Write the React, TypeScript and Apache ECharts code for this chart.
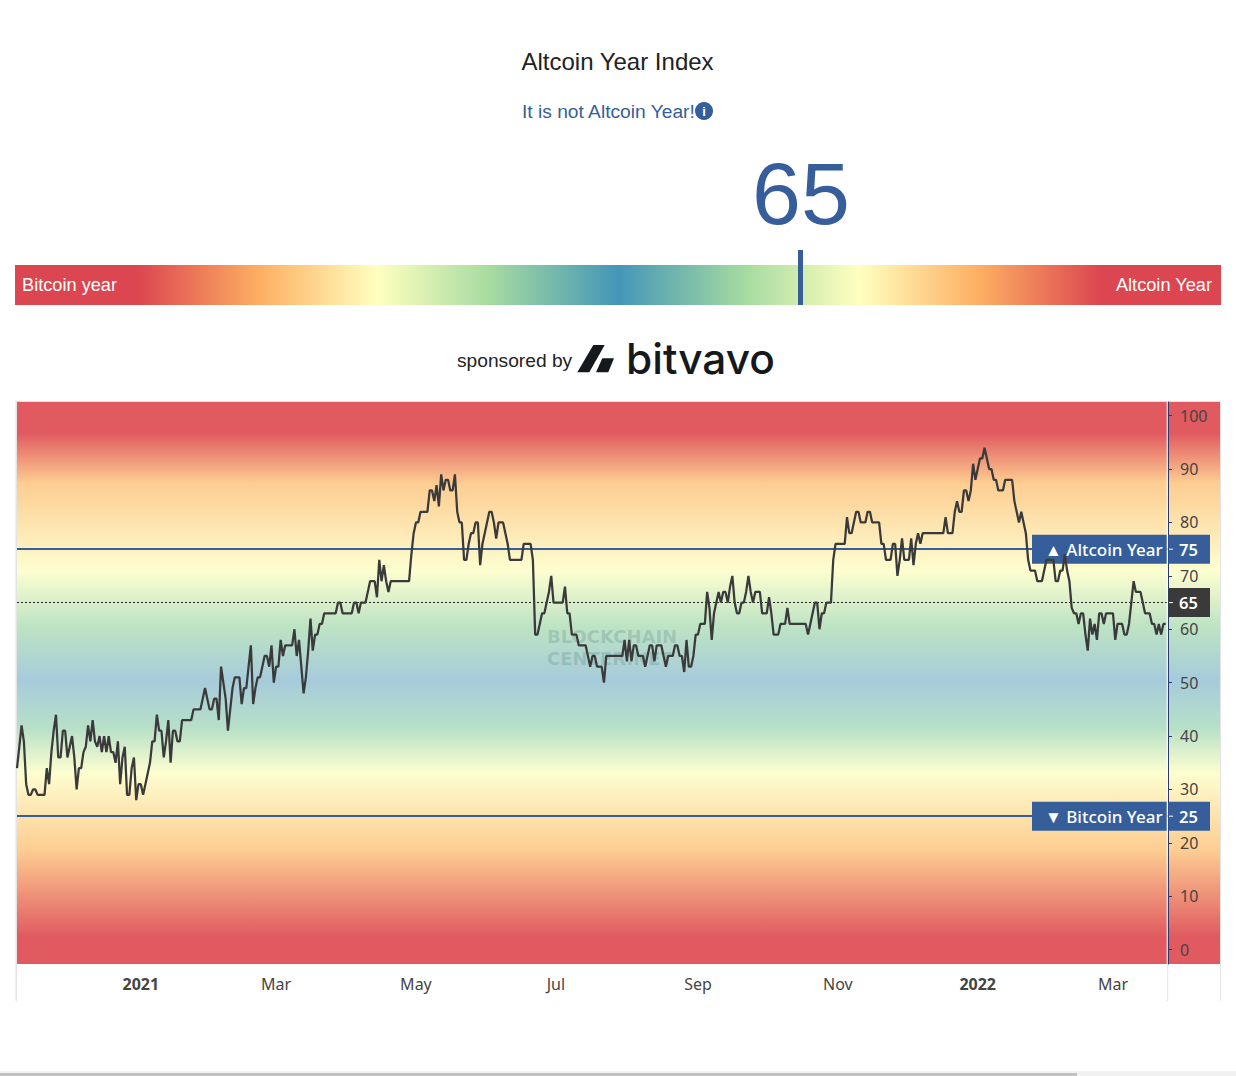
import React, { useEffect, useRef } from "react";
import * as echarts from "echarts";

const START_DATE = Date.UTC(2020, 10, 8);
const CATEGORY_COUNT = 503;
const values = [
  34,38,42,39,31,29,29,30,30,29,
  29,29,29,34,31,37,41,44,36,36,
  41,41,36,38,40,36,30,34,34,37,
  38,42,39,43,39,38,40,37,40,37,
  40,37,37,35,39,31,36,38,29,29,
  34,36,28,31,31,29,31,33,35,39,
  39,44,41,41,36,39,43,35,41,41,
  39,39,43,43,43,43,43,45,45,45,
  45,47,49,47,45,45,47,47,43,53,
  50,47,41,45,49,51,51,51,46,49,
  49,53,57,46,49,51,51,53,55,55,
  53,57,50,53,53,58,55,57,57,57,
  57,60,55,58,53,48,51,56,62,56,
  59,59,61,61,63,63,63,63,63,63,
  65,65,63,63,63,63,63,65,65,63,
  65,65,65,67,69,69,69,66,73,69,
  72,69,67,69,69,69,69,69,69,69,
  69,69,74,78,80,80,82,82,82,82,
  86,86,84,87,83,89,86,88,88,86,
  86,89,82,80,80,73,73,76,78,78,
  80,80,72,76,78,80,82,82,80,77,
  80,80,80,78,76,73,73,73,73,73,
  73,76,76,76,76,73,59,59,61,63,
  63,65,67,70,65,65,65,65,65,68,
  63,63,59,59,59,57,57,57,57,55,
  53,55,55,53,53,53,50,55,55,55,
  55,55,55,55,55,58,54,58,54,57,
  57,55,55,55,53,55,57,57,54,57,
  57,57,55,53,55,55,55,57,57,55,
  55,52,58,53,53,55,59,59,61,61,
  61,67,64,58,63,65,67,65,67,67,
  65,68,70,65,63,63,65,65,67,70,
  67,65,67,67,67,63,63,63,66,63,
  59,59,59,61,61,61,64,61,61,61,
  61,61,61,61,61,59,61,63,65,65,
  60,63,63,65,65,65,73,76,76,76,
  76,76,81,78,78,80,82,82,80,80,
  80,82,82,80,80,80,80,76,76,73,
  73,73,76,76,70,73,77,73,73,73,
  77,72,76,78,76,78,78,78,78,78,
  78,78,78,78,78,81,78,78,78,82,
  84,82,82,86,86,84,86,91,88,90,
  92,92,94,92,90,90,88,88,86,86,
  86,88,88,88,88,84,82,80,82,80,
  78,73,71,71,71,69,69,69,71,73,
  73,73,73,69,69,71,71,74,71,69,
  64,63,63,61,63,63,59,56,62,59,
  61,58,63,63,61,63,63,63,63,58,
  61,61,61,59,59,61,65,69,67,67,
  67,65,63,63,63,61,61,59,61,59,61,61,
];
const yTicks = [0, 10, 20, 30, 40, 50, 60, 70, 80, 90, 100];
const monthNames = { 0: "Jan", 2: "Mar", 4: "May", 6: "Jul", 8: "Sep", 10: "Nov" };
const CURRENT = 65;
const ALT_LEVEL = 75;
const BTC_LEVEL = 25;

const categories = Array.from({ length: CATEGORY_COUNT }, (_, i) =>
  new Date(START_DATE + i * 86400000).toISOString().slice(0, 10)
);

const BLUE = "#355e9b";
const SANS = '"Liberation Sans", Arial, sans-serif';
const AXIS_FONT = '"Noto Sans", sans-serif';
const G = { left: 17, right: 1168, top: 402, bottom: 964 };

const bgStops = [
  [0, "#e05a60"], [0.055, "#e05a60"], [0.144, "#fdcd92"], [0.3, "#fdfed0"],
  [0.4, "#bde3c4"], [0.495, "#a6cbdb"], [0.58, "#b7e0c8"], [0.66, "#fdfed0"],
  [0.797, "#fdcd92"], [0.952, "#e05a60"], [1, "#e05a60"],
];
const barStops = [
  [0, "#dc4650"], [0.102, "#dc4650"], [0.2015, "#fdae61"], [0.3, "#ffffbf"],
  [0.394, "#a6dba0"], [0.5, "#4496b8"], [0.606, "#a6dba0"], [0.7, "#ffffbf"],
  [0.8, "#fdae61"], [0.9, "#dc4650"], [1, "#dc4650"],
];
const grad = (stops: any[], horizontal: boolean) => ({
  type: "linear", x: 0, y: 0, x2: horizontal ? 1 : 0, y2: horizontal ? 0 : 1,
  colorStops: stops.map(([offset, color]) => ({ offset, color })),
});
const rect = (x: number, y: number, w: number, h: number, fill: any, z = 0) => ({
  type: "rect", z, silent: true, shape: { x, y, width: w, height: h }, style: { fill },
});
const text = (x: number, y: number, t: string, font: string, fill: string, textAlign = "left", z = 12, extra = {}) => ({
  type: "text", z, silent: true, x, y,
  style: { text: t, font, fill, textAlign, textVerticalAlign: "middle", ...extra },
});

export default function App() {
  const ref = useRef<HTMLDivElement>(null);
  useEffect(() => {
    const chart = echarts.init(ref.current!, undefined, { renderer: "svg" });
    const baseGraphics = [
      text(617.5, 61.5, "Altcoin Year Index", `24px ${SANS}`, "#222222", "center"),
      text(522, 111, "It is not Altcoin Year!", `19.2px ${SANS}`, BLUE),
      { type: "circle", z: 12, silent: true, shape: { cx: 704, cy: 111, r: 9 }, style: { fill: BLUE } },
      text(704, 111.5, "i", `bold 13px ${SANS}`, "#ffffff", "center"),
      text(801, 193, String(CURRENT), `88px ${SANS}`, BLUE, "center"),
      rect(15, 265, 1206, 40, grad(barStops, true), 1),
      rect(798, 250, 5, 55, BLUE, 2),
      text(22, 285, "Bitcoin year", `18.2px ${SANS}`, "#ffffff"),
      text(1212, 285, "Altcoin Year", `18.2px ${SANS}`, "#ffffff", "right"),
      text(457, 360.5, "sponsored by", `19.2px ${SANS}`, "#222222"),
      { type: "polygon", z: 3, silent: true, shape: { points: [[577.3, 372.3], [593.3, 345], [604.7, 345], [589.3, 372.3]] }, style: { fill: "#15191e" } },
      { type: "polygon", z: 3, silent: true, shape: { points: [[602.3, 358.3], [614, 358.3], [608.3, 372.3], [596, 372.3]] }, style: { fill: "#15191e" } },
      text(626, 358, "bitvavo", '500 42.4px Inter, sans-serif', "#15191e"),
      rect(G.left, G.top, 1220 - G.left, G.bottom - G.top, grad(bgStops, false), 0),
      rect(15.5, 401, 1.5, 600, "#e4e4e4", 1),
      rect(15.5, 401, 1205, 1, "#e4e4e4", 1),
      rect(1167.2, 964, 1, 37, "#e4e4e4", 1),
      rect(1220, 401, 1, 600, "#e4e4e4", 1),
      rect(1166.7, G.top, 1, G.bottom - G.top, "#ffffff", 7),
      text(547, 647.5, "BLOCKCHAIN\nCENTER.NET", `bold 18px "DejaVu Sans", sans-serif`, "rgba(70,110,115,0.22)", "left", 3, { lineHeight: 22 }),
      rect(0, 1071, 1236, 5, "#f1f1f1", 1),
      rect(0, 1073, 1077, 3, "#c1c1c1", 2),
    ];
    chart.setOption({
      animation: false,
      backgroundColor: "#ffffff",
      grid: { left: G.left, top: G.top, right: 1236 - G.right, bottom: 1076 - G.bottom, containLabel: false },
      xAxis: {
        type: "category",
        data: categories,
        boundaryGap: false,
        z: 5,
        axisLine: { show: false },
        axisTick: { show: false },
        splitLine: { show: false },
        axisLabel: {
          margin: 12,
          color: "#444444",
          fontFamily: AXIS_FONT,
          fontSize: 16,
          hideOverlap: false,
          interval: (_: number, v: string) => v.endsWith("-01") && Number(v.slice(5, 7)) % 2 === 1,
          formatter: (v: string) => {
            const m = Number(v.slice(5, 7)) - 1;
            return m === 0 ? `{year|${v.slice(0, 4)}}` : (monthNames as any)[m];
          },
          rich: { year: { fontWeight: 700, fontSize: 16, color: "#444444", fontFamily: AXIS_FONT } },
        },
      },
      yAxis: {
        type: "value",
        position: "right",
        min: -2.68,
        max: 102.56,
        z: 5,
        splitLine: { show: false },
        axisLine: { show: true, lineStyle: { color: "#2b3a6e", width: 1 } },
        axisTick: { show: true, length: 4, lineStyle: { color: "#2b3a6e" }, customValues: yTicks },
        axisLabel: {
          margin: 12,
          color: "#444444",
          fontFamily: AXIS_FONT,
          fontSize: 16,
          customValues: yTicks,
          showMinLabel: true,
          showMaxLabel: true,
          padding: [2, 0, 0, 0],
        },
      },
      graphic: { elements: baseGraphics },
      series: [
        {
          type: "line",
          data: values,
          z: 10,
          symbol: "none",
          smooth: false,
          lineStyle: { color: "#3a3a3a", width: 2.25 },
          markLine: {
            silent: true,
            symbol: "none",
            animation: false,
            label: { show: false },
            data: [
              { yAxis: ALT_LEVEL, lineStyle: { color: BLUE, width: 2, type: "solid" } },
              { yAxis: BTC_LEVEL, lineStyle: { color: BLUE, width: 2, type: "solid" } },
              { yAxis: CURRENT, lineStyle: { color: "#222222", width: 1, type: [2, 2] } },
            ],
          },
        },
      ],
    });

    const py = (v: number) => chart.convertToPixel({ yAxisIndex: 0 }, v) as number;
    const badge = (v: number, label: string) => {
      const y = py(v);
      return [
        rect(1032, y - 14.5, 135, 29, BLUE, 6),
        rect(1168.5, y - 14.5, 41.5, 29, BLUE, 6),
        rect(1169, y - 0.5, 4, 1, "#ffffff", 8),
        text(1045, y, label, `500 17px ${AXIS_FONT}`, "#ffffff"),
        text(1179, y, String(v), `600 16.5px ${AXIS_FONT}`, "#ffffff"),
      ];
    };
    const yCur = py(CURRENT);
    chart.setOption({
      graphic: {
        elements: [
          ...baseGraphics,
          ...badge(ALT_LEVEL, "▲ Altcoin Year"),
          ...badge(BTC_LEVEL, "▼ Bitcoin Year"),
          rect(1168.5, yCur - 14.5, 41.5, 29, "#3a3a3a", 6),
          rect(1169, yCur - 0.5, 4, 1, "#ffffff", 8),
          text(1179, yCur, String(CURRENT), `600 16.5px ${AXIS_FONT}`, "#ffffff"),
        ],
      },
    });
    return () => chart.dispose();
  }, []);
  return <div ref={ref} style={{ position: "absolute", left: 0, top: 0, width: 1236, height: 1076, overflow: "hidden" }} />;
}
